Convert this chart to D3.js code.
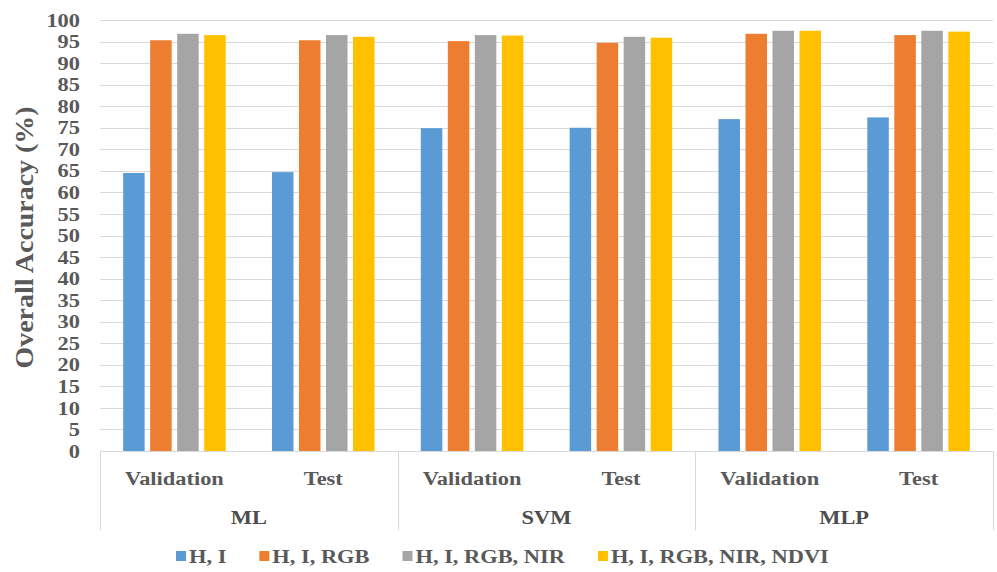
<!DOCTYPE html>
<html>
<head>
<meta charset="utf-8">
<script src="https://cdn.jsdelivr.net/npm/d3@7/dist/d3.min.js"></script>
<style>
  html, body { margin: 0; padding: 0; background: #fff; }
  svg { display: block; }
  text { font-family: "Liberation Serif", "Times New Roman", serif; font-weight: bold; fill: #595959; }
</style>
</head>
<body>
<svg id="chart" width="997" height="572"></svg>
<script>
// Classifier groups and the data subsets evaluated within each
const groups = ["ML", "SVM", "MLP"];
const subsets = ["Validation", "Test"];

// Feature combinations (series)
const seriesNames = ["H, I", "H, I, RGB", "H, I, RGB, NIR", "H, I, RGB, NIR, NDVI"];
const seriesColors = ["#5B9BD5", "#ED7D31", "#A5A5A5", "#FFC000"];

// Overall accuracy (%) per series, ordered ML-Val, ML-Test, SVM-Val, SVM-Test, MLP-Val, MLP-Test
const accHI = [64.5, 64.7, 74.9, 75.0, 77.0, 77.4];
const accHIRGB = [95.3, 95.3, 95.1, 94.7, 96.8, 96.5];
const accHIRGBNIR = [96.8, 96.5, 96.5, 96.1, 97.5, 97.5];
const accHIRGBNIRNDVI = [96.5, 96.1, 96.4, 95.9, 97.5, 97.3];

const yTicks = d3.range(0, 101, 5);
const yTitle = "Overall Accuracy (%)";

const seriesValues = [accHI, accHIRGB, accHIRGBNIR, accHIRGBNIRNDVI];

// Category keys (group | subset)
const cats = [];
groups.forEach(g => subsets.forEach(s => cats.push({ group: g, subset: s, key: g + "|" + s })));

const svg = d3.select("#chart");
const SX = 1.15; // horizontal stretch applied to the bold serif labels
const FS = 19.5; // label font size

const plotL = 100, plotR = 993, plotT = 20, plotB = 451;

const x = d3.scaleBand().domain(cats.map(c => c.key)).range([plotL, plotR]).padding(0);
const xs = d3.scaleBand().domain(seriesNames).range([0, x.bandwidth()]).paddingInner(0.204).paddingOuter(0.857);
const y = d3.scaleLinear().domain([0, 100]).range([plotB, plotT]);

const gridColor = "#D9D9D9";

// Horizontal gridlines
svg.append("g").selectAll("line").data(yTicks.filter(t => t > 0)).join("line")
  .attr("x1", plotL).attr("x2", plotR)
  .attr("y1", d => Math.round(y(d)) + 0.5).attr("y2", d => Math.round(y(d)) + 0.5)
  .attr("stroke", gridColor).attr("stroke-width", 1);

// Bars
const barsG = svg.append("g");
seriesNames.forEach((name, si) => {
  barsG.append("g").selectAll("rect").data(seriesValues[si]).join("rect")
    .attr("x", (d, i) => x(cats[i].key) + xs(name))
    .attr("width", xs.bandwidth())
    .attr("y", d => y(d))
    .attr("height", d => y(0) - y(d))
    .attr("fill", seriesColors[si]);
});

// Baseline axis
svg.append("line")
  .attr("x1", plotL).attr("x2", plotR)
  .attr("y1", Math.round(y(0)) + 0.5).attr("y2", Math.round(y(0)) + 0.5)
  .attr("stroke", gridColor).attr("stroke-width", 1);

// Group separators below the axis
const groupEdges = [plotL];
groups.forEach(g => groupEdges.push(x(g + "|" + subsets[subsets.length - 1]) + x.bandwidth()));
svg.append("g").selectAll("line").data(groupEdges).join("line")
  .attr("x1", d => Math.round(d) + 0.5).attr("x2", d => Math.round(d) + 0.5)
  .attr("y1", y(0)).attr("y2", 530)
  .attr("stroke", gridColor).attr("stroke-width", 1);

// Helper for stretched labels
function label(parent, px, py, str, anchor, size, fill) {
  const g = parent.append("g").attr("transform", `translate(${px},${py}) scale(${SX},1)`);
  const t = g.append("text").attr("text-anchor", anchor).style("font-size", size + "px").text(str);
  if (fill) t.style("fill", fill);
  return t;
}

// Y tick labels
const yAxisG = svg.append("g");
yTicks.forEach(t => {
  label(yAxisG, 80, y(t), d3.format("d")(t), "end", FS).attr("dy", "0.34em");
});

// Y axis title
svg.append("text")
  .attr("transform", `translate(33,${(105 + 370) / 2}) rotate(-90)`)
  .attr("text-anchor", "middle")
  .attr("textLength", 262)
  .attr("lengthAdjust", "spacingAndGlyphs")
  .style("font-size", "25px")
  .text(yTitle);

// Subset labels
const xAxisG = svg.append("g");
cats.forEach(c => {
  label(xAxisG, x(c.key) + x.bandwidth() / 2, 485, c.subset, "middle", FS);
});

// Group labels
groups.forEach((g, gi) => {
  const cx = (groupEdges[gi] + groupEdges[gi + 1]) / 2;
  label(xAxisG, cx, 524, g, "middle", FS, "#4d4d4d");
});

// Legend
const legend = svg.append("g");
let lx = 176;
seriesNames.forEach((name, si) => {
  legend.append("rect").attr("x", lx).attr("y", 551).attr("width", 10).attr("height", 10)
    .attr("fill", seriesColors[si]);
  const t = label(legend, lx + 13, 563, name, "start", FS);
  const w = t.node().getComputedTextLength() * SX;
  lx += 13 + w + 33;
});
</script>
</body>
</html>
